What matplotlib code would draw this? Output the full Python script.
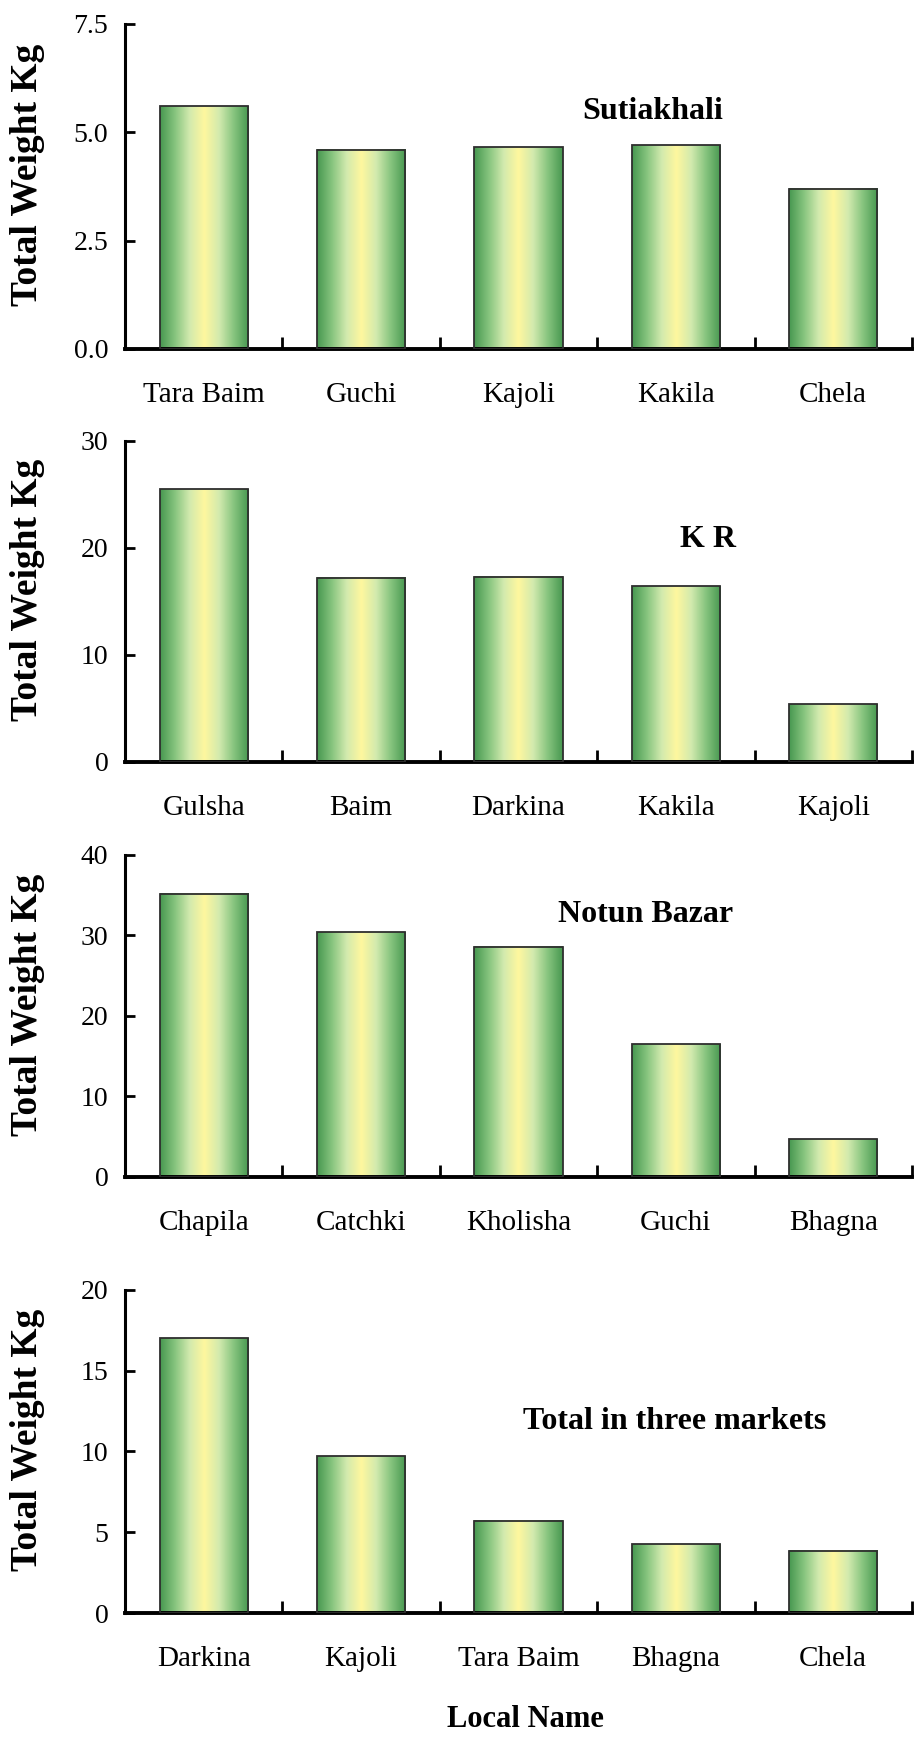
import matplotlib
matplotlib.use("Agg")
import matplotlib.pyplot as plt
import numpy as np
from matplotlib.colors import LinearSegmentedColormap
from matplotlib.ticker import FixedLocator, FormatStrFormatter

plt.rcParams['font.family'] = ['Liberation Serif', 'DejaVu Serif']

# data
suti_names = ["Tara Baim", "Guchi", "Kajoli", "Kakila", "Chela"]
suti_kg = [5.6, 4.6, 4.65, 4.7, 3.7]

kr_names = ["Gulsha", "Baim", "Darkina", "Kakila", "Kajoli"]
kr_kg = [25.5, 17.2, 17.3, 16.4, 5.4]

notun_names = ["Chapila", "Catchki", "Kholisha", "Guchi", "Bhagna"]
notun_kg = [35.2, 30.4, 28.6, 16.5, 4.7]

total_names = ["Darkina", "Kajoli", "Tara Baim", "Bhagna", "Chela"]
total_kg = [17.0, 9.7, 5.7, 4.27, 3.85]

panels = [
    ("Sutiakhali", suti_names, suti_kg, 7.5, 2.5, "%.1f", (0.670, 0.732)),
    ("K R", kr_names, kr_kg, 30, 10, "%d", (0.741, 0.692)),
    ("Notun Bazar", notun_names, notun_kg, 40, 10, "%d", (0.661, 0.814)),
    ("Total in three markets", total_names, total_kg, 20, 5, "%d", (0.698, 0.594)),
]

# green - yellow - green shading across each bar
shade = LinearSegmentedColormap.from_list(
    "bar", ["#479850", "#86c47e", "#d2eaae", "#fff79e", "#d2eaae", "#86c47e", "#479850"])
grad = np.linspace(0, 1, 256).reshape(1, -1)

fig = plt.figure(figsize=(9.15, 17.38), dpi=100)

# axes boxes (left, bottom, width, height) in figure fractions
boxes = [
    (0.1366, 0.7992, 0.860, 0.1870),
    (0.1366, 0.5616, 0.860, 0.1847),
    (0.1366, 0.3228, 0.860, 0.1853),
    (0.1366, 0.0719, 0.860, 0.1859),
]

for (title, names, vals, ymax, step, fmt, tpos), box in zip(panels, boxes):
    ax = fig.add_axes(box)
    x = np.arange(len(names))
    bars = ax.bar(x, vals, width=0.56, facecolor="none", edgecolor="#2e2e2e",
                  linewidth=1.3, zorder=3)
    for b in bars:
        x0, w, h = b.get_x(), b.get_width(), b.get_height()
        ax.imshow(grad, cmap=shade, aspect="auto", extent=[x0, x0 + w, 0, h],
                  zorder=2, interpolation="bilinear")

    ax.set_xlim(-0.5, len(names) - 0.5)
    ax.set_ylim(0, ymax)

    ax.spines["top"].set_visible(False)
    ax.spines["right"].set_visible(False)
    ax.spines["left"].set_linewidth(2.2)
    ax.spines["bottom"].set_linewidth(2.8)

    ax.set_yticks(np.arange(0, ymax + step / 2, step))
    ax.yaxis.set_major_formatter(FormatStrFormatter(fmt))
    ax.tick_params(axis="y", direction="in", length=7, width=2, labelsize=20, pad=12)

    ax.set_xticks(x)
    ax.set_xticklabels(names)
    ax.tick_params(axis="x", which="major", length=0, labelsize=21, pad=24)
    ax.xaxis.set_minor_locator(FixedLocator(x + 0.5))
    ax.tick_params(axis="x", which="minor", direction="in", length=9, width=2)

    ax.set_ylabel("Total Weight Kg", fontsize=27, fontweight="bold")
    ax.yaxis.set_label_coords(-0.102, 0.535)

    ax.text(tpos[0], tpos[1], title, transform=ax.transAxes, fontsize=23,
            fontweight="bold", ha="center", va="center")

fig.text(0.574, 0.0104, "Local Name", fontsize=22, fontweight="bold",
         ha="center", va="center")

fig.savefig("out.png", dpi=100)
